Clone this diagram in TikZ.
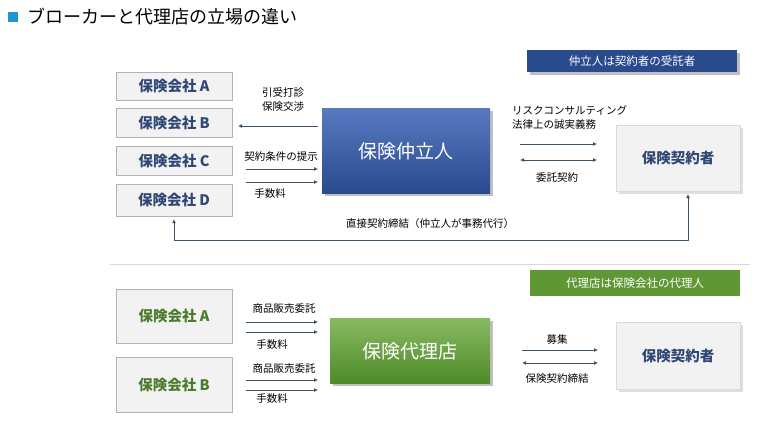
\documentclass[tikz,border=0pt]{standalone}
\usepackage{fontspec}
\setmainfont{Noto Sans CJK JP}
\usetikzlibrary{arrows.meta,shadows}
\definecolor{bluebox}{HTML}{3A62B5}
\definecolor{bluedark}{HTML}{2A4A8E}
\definecolor{txtblue}{HTML}{2F4774}
\definecolor{txtgreen}{HTML}{4A7A2A}
\definecolor{greenbox}{HTML}{6AA83A}
\definecolor{greendark}{HTML}{4E8A28}
\definecolor{arr}{HTML}{3E5468}
\tikzset{
 co/.style={draw=black!30,fill=black!5,minimum width=116pt,font=\bfseries\fontsize{14.5}{14.5}\selectfont,inner sep=0},
 lab/.style={font=\fontsize{10.5}{11}\selectfont,inner sep=0},
 ar/.style={draw=arr,line width=0.8pt,-{Latex[length=4pt,width=4pt]}},
 dar/.style={draw=arr,line width=0.8pt,{Latex[length=4pt,width=4pt]}-{Latex[length=4pt,width=4pt]}},
}
\begin{document}
\begin{tikzpicture}[x=1pt,y=-1pt]
\useasboundingbox (0,0) rectangle (771,429);
\fill[fill={rgb,255:red,30;green,150;blue,210}] (8,12) rectangle (18,22);
\node[anchor=west,font=\fontsize{18}{18}\selectfont,inner sep=0] (title) at (27,17) {ブローカーと代理店の立場の違い};
% top
\node[fill=bluedark,text=white,minimum width=210pt,minimum height=22pt,font=\fontsize{11.5}{11.5}\selectfont,drop shadow] (hb) at (632,61) {仲立人は契約者の受託者};
\node[co,text=txtblue,minimum height=28pt] (A) at (174,86) {保険会社 A};
\node[co,text=txtblue,minimum height=29pt] (B) at (174,123) {保険会社 B};
\node[co,text=txtblue,minimum height=29pt] (C) at (174,161) {保険会社 C};
\node[co,text=txtblue,minimum height=32pt] (D) at (174,200) {保険会社 D};
\node[minimum width=168pt,minimum height=85pt,top color=bluebox!85,bottom color=bluedark,text=white,font=\fontsize{19}{19}\selectfont,drop shadow] (br) at (406,151) {保険仲立人};
\node[co,text=txtblue,minimum width=124pt,minimum height=66pt,draw=black!15,drop shadow={opacity=0.25}] (K1) at (678,158) {保険契約者};
\coordinate (l1a) at (318,126); \coordinate (l1b) at (238,126);
\draw[ar] (l1a) -- (l1b);
\node[lab] (t1) at (283,92) {引受打診};
\node[lab] (t2) at (283,107) {保険交渉};
\node[lab] (t3) at (281,157) {契約条件の提示};
\coordinate (c1a) at (246,169); \coordinate (c1b) at (318,169);
\coordinate (c2a) at (246,182); \coordinate (c2b) at (318,182);
\draw[ar] (c1a) -- (c1b); \draw[ar] (c2a) -- (c2b);
\node[lab] (t4) at (270,194) {手数料};
\node[lab,anchor=west] (t5) at (512,110) {リスクコンサルティング};
\node[lab,anchor=west] (t6) at (512,125) {法律上の誠実義務};
\coordinate (r1a) at (520,144); \coordinate (r1b) at (597,144);
\coordinate (r2a) at (520,160); \coordinate (r2b) at (597,160);
\draw[ar] (r1a) -- (r1b); \draw[dar] (r2a) -- (r2b);
\node[lab] (t7) at (557,178) {委託契約};
\draw[ar,{Latex[length=4pt,width=4pt]}-{Latex[length=4pt,width=4pt]}] (D.south) ++(0,3) |- (688,240) -- (688,194);
\node[lab] (t8) at (430,224) {直接契約締結（仲立人が事務代行）};
\draw[black!15,line width=1pt] (110,264) -- (750,264);
% bottom
\node[fill=greenbox!90!black,text=white,minimum width=210pt,minimum height=26pt,font=\fontsize{11.5}{11.5}\selectfont] (hg) at (635,283) {代理店は保険会社の代理人};
\node[co,text=txtgreen,minimum height=54pt] (GA) at (174,316) {保険会社 A};
\node[co,text=txtgreen,minimum height=55pt] (GB) at (174,385) {保険会社 B};
\node[minimum width=160pt,minimum height=65pt,top color=greenbox!80,bottom color=greendark,text=white,font=\fontsize{19}{19}\selectfont,drop shadow] (ag) at (410,351) {保険代理店};
\node[co,text=txtblue,minimum width=124pt,minimum height=67pt,draw=black!15,drop shadow={opacity=0.25}] (K2) at (678,356) {保険契約者};
\node[lab] (u1) at (284,309) {商品販売委託};
\coordinate (g1a) at (246,322); \coordinate (g1b) at (318,322);
\coordinate (g2a) at (246,332); \coordinate (g2b) at (318,332);
\draw[ar] (g1a) -- (g1b); \draw[ar] (g2a) -- (g2b);
\node[lab] (u2) at (272,345) {手数料};
\node[lab] (u3) at (284,369) {商品販売委託};
\coordinate (g3a) at (246,380); \coordinate (g3b) at (318,380);
\coordinate (g4a) at (246,390); \coordinate (g4b) at (318,390);
\draw[ar] (g3a) -- (g3b); \draw[ar] (g4a) -- (g4b);
\node[lab] (u4) at (272,399) {手数料};
\node[lab] (u5) at (557,340) {募集};
\coordinate (h1a) at (522,350); \coordinate (h1b) at (598,350);
\coordinate (h2a) at (522,363); \coordinate (h2b) at (598,363);
\draw[ar] (h1a) -- (h1b); \draw[dar] (h2a) -- (h2b);
\node[lab] (u6) at (557,379) {保険契約締結};
\end{tikzpicture}
\end{document}
